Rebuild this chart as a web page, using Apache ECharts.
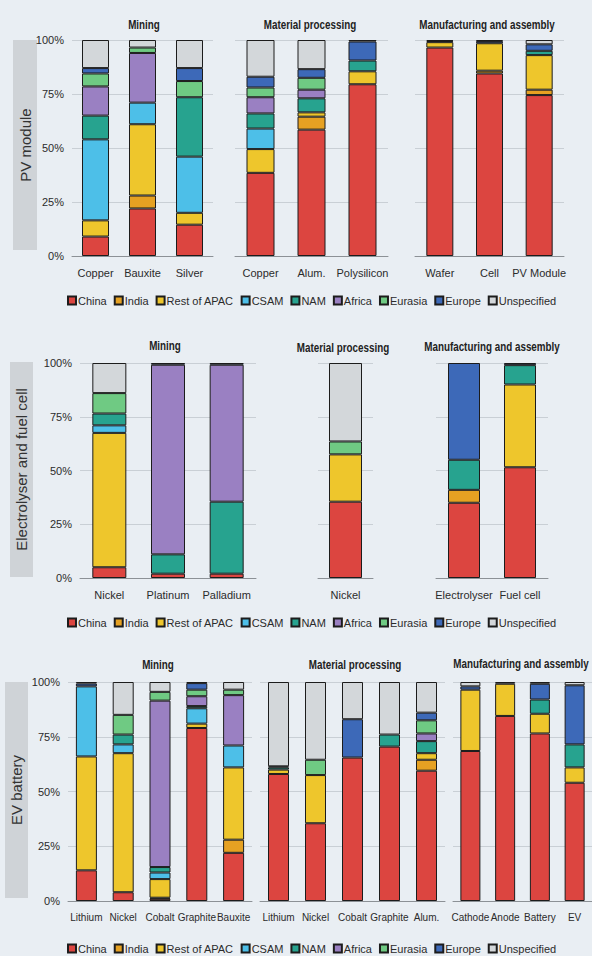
<!DOCTYPE html>
<html>
<head>
<meta charset="utf-8">
<title>Regional shares along clean energy supply chains</title>
<script src="https://cdn.jsdelivr.net/npm/echarts@6/dist/echarts.min.js"></script>
<style>
  html, body { margin: 0; padding: 0; background: #e9eef3; }
  #main { width: 592px; height: 956px; }
</style>
</head>
<body>
<div id="main"></div>
<script>
// regions, in stacking order (bottom -> top)
const regions = ['China', 'India', 'Rest of APAC', 'CSAM', 'NAM', 'Africa', 'Eurasia', 'Europe', 'Unspecified'];
const regionColors = ['#dc4540', '#e6a122', '#eec62c', '#4dbfe8', '#27a38f', '#9a80c2', '#6fca83', '#3d69b8', '#d3d7da'];

// ---- PV module ----  (shares in %, one value per region)
const pvMiningCats = ['Copper', 'Bauxite', 'Silver'];
const pvCopperMine  = [9, 0, 7.5, 37.5, 11, 13.5, 6, 2.5, 13];
const pvBauxiteMine = [22, 6, 33, 10, 0, 23, 2.5, 0, 3.5];
const pvSilverMine  = [14.5, 0, 5.5, 26, 27.5, 0, 7.5, 6, 13];

const pvProcCats = ['Copper', 'Alum.', 'Polysilicon'];
const pvCopperProc = [38.5, 0, 11, 9.5, 7, 7.5, 4.5, 5, 17];
const pvAlumProc   = [58.5, 6, 2, 0, 6.5, 4, 5.5, 4, 13.5];
const pvPolyProc   = [79.5, 0, 6, 0, 5, 0, 0, 8.8, 0.7];

const pvMfgCats = ['Wafer', 'Cell', 'PV Module'];
const pvWafer  = [96.5, 0, 2.5, 0, 0, 0, 0, 0.5, 0.5];
const pvCell   = [84.5, 1.3, 12.7, 0, 0, 0, 0, 1, 0.5];
const pvModule = [74.5, 2.5, 16, 0, 2, 0, 0, 3, 2];

// ---- Electrolyser and fuel cell ----
const elMiningCats = ['Nickel', 'Platinum', 'Palladium'];
const elNickelMine    = [5, 0, 62.5, 3.5, 5.5, 0, 9.5, 0, 14];
const elPlatinumMine  = [2, 0, 0, 0, 9, 88.2, 0, 0.8, 0];
const elPalladiumMine = [2, 0, 0, 0, 33.5, 63.7, 0, 0.8, 0];

const elProcCats = ['Nickel'];
const elNickelProc = [35.5, 0, 22, 0, 0, 0, 6, 0, 36.5];

const elMfgCats = ['Electrolyser', 'Fuel cell'];
const elElectrolyser = [35, 6, 0, 0, 14, 0, 0, 45, 0];
const elFuelCell     = [51.5, 0, 38.5, 0, 9, 0, 0, 1, 0];

// ---- EV battery ----
const evMiningCats = ['Lithium', 'Nickel', 'Cobalt', 'Graphite', 'Bauxite'];
const evLithiumMine  = [14, 0, 52, 32, 0, 0, 0, 1.3, 0.7];
const evNickelMine   = [4, 0, 63.5, 4, 4.5, 0, 9, 0, 15];
const evCobaltMine   = [1, 0.5, 8.5, 3, 2.5, 76, 4, 0, 4.5];
const evGraphiteMine = [79, 0, 2, 7, 1, 4.5, 3, 3, 0.5];
const evBauxiteMine  = [22, 6, 33, 10, 0, 23, 2.5, 0, 3.5];

const evProcCats = ['Lithium', 'Nickel', 'Cobalt', 'Graphite', 'Alum.'];
const evLithiumProc  = [58, 0, 2, 0, 1, 0, 0, 0.5, 38.5];
const evNickelProc   = [35.5, 0, 22, 0, 0, 0, 7, 0, 35.5];
const evCobaltProc   = [65.5, 0, 0, 0, 0, 0, 0, 17.5, 17];
const evGraphiteProc = [70.5, 0, 0, 0, 5.5, 0, 0, 0, 24];
const evAlumProc     = [59.5, 5, 3, 0, 5.5, 3.5, 6, 3.5, 14];

const evMfgCats = ['Cathode', 'Anode', 'Battery', 'EV'];
const evCathode = [68.5, 0, 28, 0, 0, 0, 0, 1.5, 2];
const evAnode   = [84.5, 0, 14.7, 0, 0, 0, 0, 0, 0.8];
const evBattery = [76.5, 0, 9, 0, 6.5, 0, 0, 7.2, 0.8];
const evEV      = [54, 0, 7, 0, 10.5, 0, 0, 27, 1.5];

const FONT = "'Liberation Sans', Arial, sans-serif";
const TXT = '#2b2b2b';

// one grid per chart block: layout + which data it shows
const groups = [
  {title: 'Mining', cats: pvMiningCats, bars: [pvCopperMine, pvBauxiteMine, pvSilverMine], left: 72, width: 141, top: 40, height: 216, bw: 27, tx: 144, ty: 25, yLab: true},
  {title: 'Material processing', cats: pvProcCats, bars: [pvCopperProc, pvAlumProc, pvPolyProc], left: 235, width: 153, top: 40, height: 216, bw: 28, tx: 310, ty: 25},
  {title: 'Manufacturing and assembly', cats: pvMfgCats, bars: [pvWafer, pvCell, pvModule], left: 415, width: 149, top: 40, height: 216, bw: 27, tx: 487, ty: 25},

  {title: 'Mining', cats: elMiningCats, bars: [elNickelMine, elPlatinumMine, elPalladiumMine], left: 80, width: 176, top: 363, height: 215, bw: 34, tx: 165, ty: 346, yLab: true},
  {title: 'Material processing', cats: elProcCats, bars: [elNickelProc], left: 318, width: 55, top: 363, height: 215, bw: 33, tx: 343, ty: 348},
  {title: 'Manufacturing and assembly', cats: elMfgCats, bars: [elElectrolyser, elFuelCell], left: 436, width: 112, top: 363, height: 215, bw: 32, tx: 492, ty: 347},

  {title: 'Mining', cats: evMiningCats, bars: [evLithiumMine, evNickelMine, evCobaltMine, evGraphiteMine, evBauxiteMine], left: 68, width: 184, top: 682, height: 219, bw: 21, tx: 158, ty: 665, yLab: true, fs: 10},
  {title: 'Material processing', cats: evProcCats, bars: [evLithiumProc, evNickelProc, evCobaltProc, evGraphiteProc, evAlumProc], left: 260, width: 185, top: 682, height: 219, bw: 21, tx: 355, ty: 665, fs: 10},
  {title: 'Manufacturing and assembly', cats: evMfgCats, bars: [evCathode, evAnode, evBattery, evEV], left: 453, width: 143, top: 682, height: 219, bw: 20, tx: 521, ty: 664, fs: 10}
];

// row labels on the left (grey boxes with vertical text)
const rows = [
  {label: 'PV module', x: 13, y: 40, w: 24, h: 210, legendTop: 295},
  {label: 'Electrolyser and fuel cell', x: 10, y: 362, w: 23, h: 215, legendTop: 617},
  {label: 'EV battery', x: 5, y: 682, w: 23, h: 216, legendTop: 943}
];

let grids = [], xAxes = [], yAxes = [], series = [], graphics = [];

groups.forEach(function (g, gi) {
  grids.push({left: g.left, top: g.top, width: g.width, height: g.height});
  xAxes.push({
    type: 'category', gridIndex: gi, data: g.cats,
    axisLine: {lineStyle: {color: '#8c9196', width: 1}},
    axisTick: {show: false},
    axisLabel: {color: TXT, fontFamily: FONT, fontSize: g.fs || 11, margin: 11, interval: 0}
  });
  yAxes.push({
    type: 'value', gridIndex: gi, min: 0, max: 100, interval: 25,
    axisLine: {show: false}, axisTick: {show: false},
    axisLabel: {show: !!g.yLab, formatter: '{value}%', color: TXT, fontFamily: FONT, fontSize: 11, margin: 8},
    splitLine: {lineStyle: {color: '#c9cfd5', width: 1}}
  });
  regions.forEach(function (r, ri) {
    series.push({
      name: r, type: 'bar', stack: 'g' + gi,
      xAxisIndex: gi, yAxisIndex: gi,
      barWidth: g.bw,
      itemStyle: {color: regionColors[ri], borderColor: '#1c1c1c', borderWidth: 1},
      emphasis: {disabled: true},
      data: g.bars.map(function (b) { return b[ri] === 0 ? '-' : b[ri]; })
    });
  });
  // block title, squeezed a bit to look like the narrow face in the original
  graphics.push({
    type: 'text', x: g.tx, y: g.ty, scaleX: 0.82,
    style: {text: g.title, fill: '#222', font: 'bold 12px ' + FONT, align: 'center', verticalAlign: 'middle'}
  });
});

rows.forEach(function (r) {
  graphics.push({type: 'rect', shape: {x: r.x, y: r.y, width: r.w, height: r.h}, style: {fill: '#cfd3d7'}});
  graphics.push({
    type: 'text', x: r.x + r.w / 2, y: r.y + r.h / 2, rotation: Math.PI / 2,
    style: {text: r.label, fill: '#333', font: '15px ' + FONT, align: 'center', verticalAlign: 'middle'}
  });
});

let legends = rows.map(function (r) {
  return {
    data: regions, top: r.legendTop, left: 67, padding: 0,
    icon: 'rect', itemWidth: 8, itemHeight: 8, itemGap: 7,
    selectedMode: false,
    textStyle: {color: TXT, fontFamily: FONT, fontSize: 11, padding: [0, 0, 0, -3]}
  };
});

let myChart = echarts.init(document.getElementById('main'), null, {renderer: 'svg'});
myChart.setOption({
  backgroundColor: '#e9eef3',
  animation: false,
  grid: grids,
  xAxis: xAxes,
  yAxis: yAxes,
  legend: legends,
  graphic: graphics,
  series: series
});
</script>
</body>
</html>
